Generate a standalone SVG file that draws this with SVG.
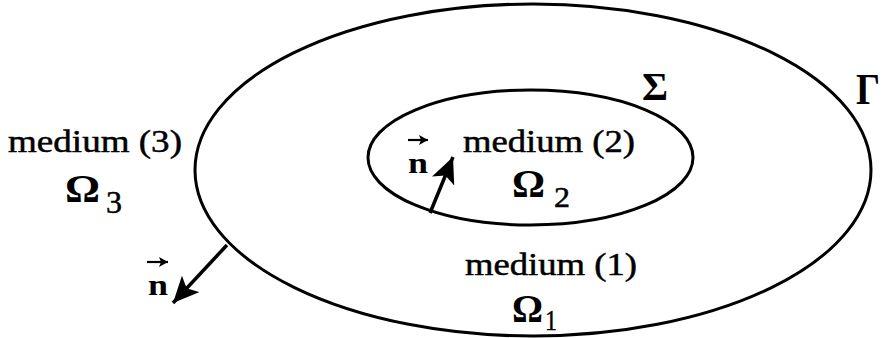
<svg xmlns="http://www.w3.org/2000/svg" width="887" height="338" viewBox="0 0 887 338">
  <style>
    .bd { fill: none; stroke: #000; stroke-width: 3; }
    .t { font-family: "Liberation Serif", "Times New Roman", serif; fill: #000; stroke: #000; stroke-width: 0.5; }
    .g { font-family: "Liberation Serif", "Times New Roman", serif; font-weight: bold; fill: #000; }
    .ar { fill: none; stroke: #000; stroke-width: 3.5; }
    .sa { fill: none; stroke: #000; stroke-width: 2.2; }
  </style>
  <defs>
    <marker id="head" markerUnits="userSpaceOnUse" markerWidth="30" markerHeight="26" refX="26" refY="12" orient="auto">
      <path d="M0,0 L26,12 L0,24 L6,12 Z" fill="#000"/>
    </marker>
    <marker id="small" markerUnits="userSpaceOnUse" markerWidth="12" markerHeight="12" refX="9" refY="5" orient="auto">
      <path d="M0,0 L9,5 L0,10 L2,5 Z" fill="#000"/>
    </marker>
  </defs>
  <rect width="887" height="338" fill="#fff"/>

  <g id="omega1-boundary-gamma">
    <ellipse class="bd" cx="533" cy="170" rx="338" ry="166"/>
  </g>
  <g id="omega2-boundary-sigma">
    <ellipse class="bd" cx="530.5" cy="157.5" rx="162.5" ry="67.5" stroke-width="2.6"/>
  </g>

  <g id="medium3">
    <text class="t" x="8" y="152" font-size="32" textLength="174" lengthAdjust="spacingAndGlyphs">medium (3)</text>
    <text class="g" x="65" y="202" font-size="40" textLength="35" lengthAdjust="spacingAndGlyphs">Ω</text>
    <text class="t" x="106" y="213" font-size="32" stroke-width="0" textLength="16" lengthAdjust="spacingAndGlyphs">3</text>
  </g>
  <g id="medium2">
    <text class="t" x="463" y="152" font-size="32" textLength="172" lengthAdjust="spacingAndGlyphs">medium (2)</text>
    <text class="g" x="512" y="197" font-size="40" textLength="33" lengthAdjust="spacingAndGlyphs">Ω</text>
    <text class="t" x="554" y="207" font-size="30" stroke-width="0" textLength="16" lengthAdjust="spacingAndGlyphs">2</text>
  </g>
  <g id="medium1">
    <text class="t" x="465" y="275" font-size="32" textLength="172" lengthAdjust="spacingAndGlyphs">medium (1)</text>
    <text class="g" x="512" y="322" font-size="40" textLength="31" lengthAdjust="spacingAndGlyphs">Ω</text>
    <text class="t" x="545" y="330" font-size="30" stroke-width="0" textLength="12" lengthAdjust="spacingAndGlyphs">1</text>
  </g>
  <g id="label-sigma">
    <text class="g" x="642" y="100" font-size="40" textLength="26" lengthAdjust="spacingAndGlyphs">Σ</text>
  </g>
  <g id="label-gamma">
    <text class="g" x="856" y="104" font-size="44" textLength="24" lengthAdjust="spacingAndGlyphs">Γ</text>
  </g>

  <g id="connectors">
    <line class="ar" x1="430" y1="213" x2="453" y2="157" marker-end="url(#head)"/>
    <line class="ar" x1="227" y1="245" x2="173" y2="303" marker-end="url(#head)"/>
    <line class="sa" x1="408" y1="140" x2="428" y2="140" marker-end="url(#small)"/>
    <line class="sa" x1="147" y1="262" x2="168" y2="262" marker-end="url(#small)"/>
  </g>
  <g id="normal-labels">
    <text class="g" x="408" y="173" font-size="30" textLength="20" lengthAdjust="spacingAndGlyphs">n</text>
    <text class="g" x="148" y="295" font-size="30" textLength="20" lengthAdjust="spacingAndGlyphs">n</text>
  </g>
</svg>
